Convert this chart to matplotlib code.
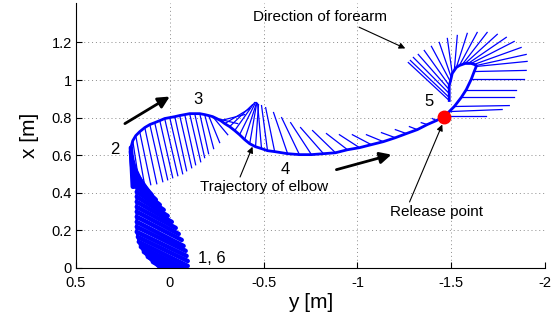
import numpy as np
import matplotlib
matplotlib.use("Agg")
import matplotlib.pyplot as plt

plt.rcParams['font.family'] = ['Liberation Sans', 'DejaVu Sans']

# backswing (1 -> 2): elbow and wrist positions, y [m] horizontal, x [m] vertical
back_ey = [0.053, 0.090, 0.117, 0.138, 0.154, 0.165, 0.170, 0.176, 0.176, 0.176, 0.176, 0.176, 0.176,
           0.176, 0.176, 0.176, 0.176, 0.176, 0.181, 0.186, 0.191, 0.197, 0.202, 0.207, 0.207]
back_ex = [0.000, 0.032, 0.059, 0.085, 0.112, 0.139, 0.165, 0.192, 0.219, 0.245, 0.272, 0.299, 0.325,
           0.352, 0.379, 0.405, 0.432, 0.459, 0.485, 0.512, 0.539, 0.565, 0.592, 0.619, 0.640]
back_wy = [-0.160, -0.149, -0.133, -0.117, -0.106, -0.096, -0.096, -0.090, -0.085, -0.074, -0.064, -0.048, -0.032,
           -0.011, 0.011, 0.032, 0.053, 0.074, 0.096, 0.117, 0.138, 0.160, 0.176, 0.191, 0.197]
back_wx = [-0.117, -0.091, -0.069, -0.043, -0.016, 0.011, 0.037, 0.064, 0.091, 0.117, 0.149, 0.181, 0.213,
           0.245, 0.277, 0.309, 0.336, 0.363, 0.389, 0.411, 0.427, 0.432, 0.432, 0.432, 0.432]

# throw (2 -> 3 -> 4 -> 5 and after release)
throw_ey = [0.197, 0.181, 0.160, 0.133, 0.106, 0.080, 0.053, 0.027, 0.000, -0.027, -0.053, -0.080, -0.106,
            -0.133, -0.160, -0.186, -0.207,
            -0.229, -0.250, -0.271, -0.293, -0.319, -0.346, -0.372, -0.399, -0.426, -0.457,
            -0.489, -0.521, -0.559, -0.628, -0.691, -0.755, -0.819, -0.883, -0.947, -1.011, -1.074, -1.138,
            -1.202, -1.261, -1.319, -1.372, -1.420, -1.463,
            -1.463, -1.489, -1.516, -1.553, -1.580, -1.606, -1.622, -1.633, -1.633, -1.622, -1.606, -1.590,
            -1.574, -1.559, -1.543, -1.527, -1.516, -1.505, -1.500, -1.495, -1.489, -1.489, -1.489, -1.489, -1.489]
throw_ex = [0.677, 0.704, 0.725, 0.747, 0.763, 0.773, 0.784, 0.795, 0.800, 0.805, 0.811, 0.816, 0.821,
            0.821, 0.821, 0.816, 0.811,
            0.805, 0.795, 0.784, 0.768, 0.752, 0.731, 0.709, 0.683, 0.661, 0.645,
            0.635, 0.624, 0.619, 0.608, 0.603, 0.603, 0.608, 0.613, 0.629, 0.640, 0.656, 0.672,
            0.693, 0.715, 0.736, 0.763, 0.784, 0.805,
            0.811, 0.832, 0.859, 0.907, 0.949, 1.003, 1.045, 1.072, 1.077, 1.083, 1.088, 1.088,
            1.088, 1.083, 1.077, 1.067, 1.051, 1.035, 1.013, 0.992, 0.971, 0.949, 0.928, 0.907, 0.891]
throw_wy = [0.160, 0.133, 0.101, 0.069, 0.037, 0.011, -0.016, -0.043, -0.069, -0.090, -0.117, -0.138, -0.165,
            -0.186, -0.207, -0.234, -0.266,
            -0.309, -0.362, -0.399, -0.426, -0.441, -0.452, -0.457, -0.463, -0.463, -0.473,
            -0.468, -0.489, -0.511, -0.553, -0.596, -0.644, -0.697, -0.761, -0.835, -0.904, -0.973, -1.048,
            -1.128, -1.202, -1.277, -1.340, -1.399, -1.452,
            -1.686, -1.771, -1.809, -1.835, -1.846, -1.888, -1.899, -1.904, -1.899, -1.872, -1.835, -1.793,
            -1.745, -1.691, -1.638, -1.585, -1.532, -1.479, -1.436, -1.394, -1.356, -1.324, -1.298, -1.282, -1.271]
throw_wx = [0.432, 0.437, 0.443, 0.448, 0.459, 0.469, 0.480, 0.491, 0.501, 0.517, 0.533, 0.549, 0.565,
            0.587, 0.608, 0.635, 0.667,
            0.709, 0.768, 0.816, 0.848, 0.869, 0.880, 0.880, 0.880, 0.875, 0.869,
            0.875, 0.864, 0.853, 0.827, 0.800, 0.773, 0.747, 0.731, 0.715, 0.709, 0.709, 0.709,
            0.720, 0.736, 0.752, 0.773, 0.795, 0.811,
            0.811, 0.843, 0.864, 0.907, 0.949, 1.003, 1.051, 1.099, 1.136, 1.173, 1.205, 1.227,
            1.243, 1.253, 1.253, 1.248, 1.237, 1.221, 1.200, 1.179, 1.157, 1.136, 1.120, 1.104, 1.093]

release_y, release_x = -1.463, 0.805

phase_labels = ['2', '3', '4', '5', '1, 6']
phase_y = [0.293, -0.149, -0.617, -1.383, -0.223]
phase_x = [0.629, 0.896, 0.523, 0.885, 0.053]

xticks = [0.5, 0, -0.5, -1, -1.5, -2]
xtick_labels = ['0.5', '0', '-0.5', '-1', '-1.5', '-2']
yticks = [0, 0.2, 0.4, 0.6, 0.8, 1.0, 1.2]
ytick_labels = ['0', '0.2', '0.4', '0.6', '0.8', '1', '1.2']

fig = plt.figure(figsize=(5.54, 3.26), dpi=100)
ax = fig.add_axes([0.137, 0.178, 0.847, 0.813])

# forearm segments (elbow -> wrist)
ax.plot(np.array([back_ey, back_wy]), np.array([back_ex, back_wx]), color='b', lw=3.2, solid_capstyle='round')
ax.plot(np.array([throw_ey, throw_wy]), np.array([throw_ex, throw_wx]), color='b', lw=0.9)
# elbow trajectory
ax.plot(back_ey + throw_ey, back_ex + throw_ex, color='b', lw=2)
ax.plot(release_y, release_x, 'o', color='r', ms=9)

for lab, py, px in zip(phase_labels, phase_y, phase_x):
    ax.text(py, px, lab, fontsize=12, ha='center', va='center')

thin = dict(arrowstyle='-|>', color='k', lw=0.8, mutation_scale=9, shrinkA=0, shrinkB=0)
ax.annotate('Direction of forearm', xy=(-1.255, 1.168), xytext=(-0.798, 1.333),
            fontsize=11, ha='center', va='center', arrowprops=dict(thin, relpos=(0.75, 0)))
ax.annotate('Trajectory of elbow', xy=(-0.441, 0.645), xytext=(-0.505, 0.432),
            fontsize=11, ha='center', va='center', arrowprops=dict(thin, relpos=(0.3, 1)))
ax.annotate('Release point', xy=(-1.452, 0.763), xytext=(-1.420, 0.299),
            fontsize=11, ha='center', va='center', arrowprops=dict(thin, relpos=(0.2, 1)))

thick = dict(arrowstyle='-|>', color='k', lw=2, mutation_scale=17, shrinkA=0, shrinkB=0)
ax.annotate('', xy=(0.0, 0.912), xytext=(0.239, 0.768), arrowprops=thick)
ax.annotate('', xy=(-1.181, 0.603), xytext=(-0.888, 0.523), arrowprops=thick)

ax.set_xlim(0.5, -2)
ax.set_ylim(0, 1.41)
ax.set_xticks(xticks)
ax.set_xticklabels(xtick_labels)
ax.set_yticks(yticks)
ax.set_yticklabels(ytick_labels)
ax.tick_params(direction='in', labelsize=10.5, length=4, pad=3)
ax.tick_params(axis='x', pad=6)
ax.spines['top'].set_visible(False)
ax.spines['right'].set_visible(False)
ax.grid(True, linestyle=(0, (1, 3)), color='0.55', lw=0.7)
ax.set_axisbelow(True)
ax.set_xlabel('y [m]', fontsize=15, labelpad=2)
ax.set_ylabel('x [m]', fontsize=15, labelpad=9)

fig.savefig('out.png', dpi=100)
